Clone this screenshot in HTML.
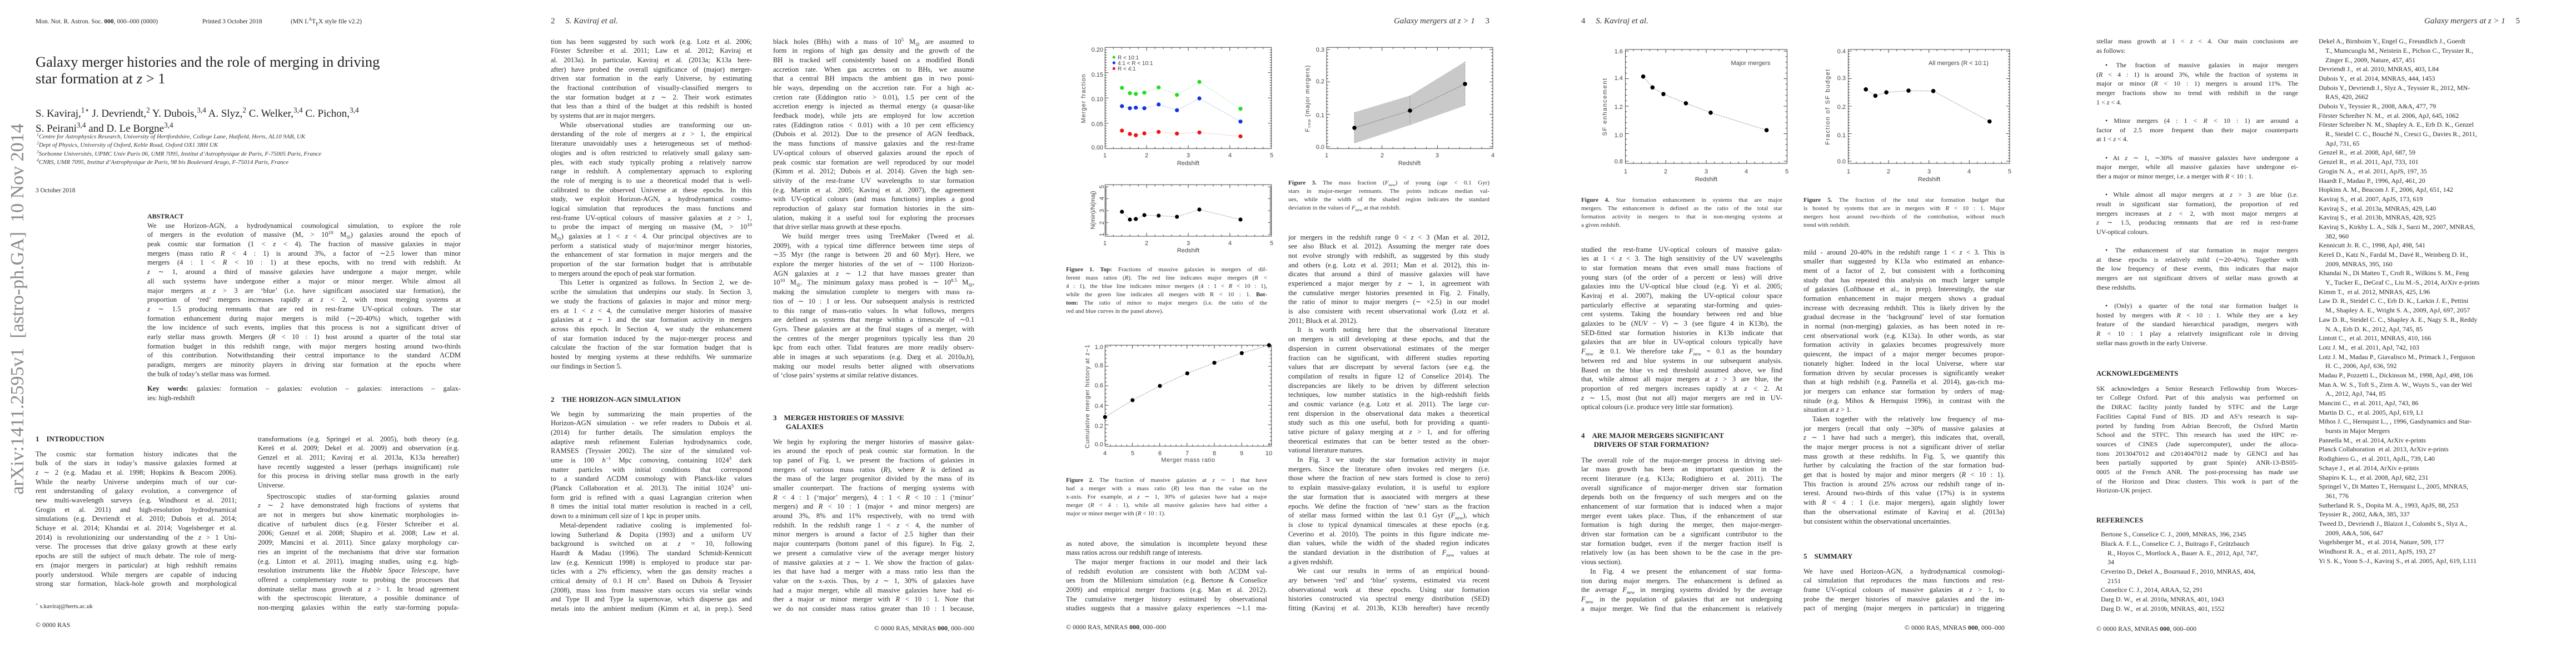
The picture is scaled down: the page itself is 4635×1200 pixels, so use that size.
<!DOCTYPE html>
<html><head><meta charset="utf-8">
<style>
html,body{margin:0;padding:0;background:#fff;}
body{width:4635px;height:1200px;position:relative;overflow:hidden;}
.c{position:absolute;font:12.6px/16.7px "Liberation Serif",serif;color:#262626;}
.c>div{height:16.7px;white-space:nowrap;overflow:hidden;text-align:justify;text-align-last:justify;}
.c>div.e{text-align-last:left;}
.c>div.i{padding-left:16px;}
.c>p{margin:0;}
.cap{position:absolute;font:11px/15px "Liberation Serif",serif;color:#333;}
.cap>div{height:15px;white-space:nowrap;overflow:hidden;text-align:justify;text-align-last:justify;}
.cap>div.e{text-align-last:left;}
.h{position:absolute;font:bold 13px/16.7px "Liberation Serif",serif;color:#222;white-space:nowrap;}
.t{position:absolute;font:12.6px/16.7px "Liberation Serif",serif;color:#262626;white-space:nowrap;}
.hd{position:absolute;font:italic 15px/18px "Liberation Serif",serif;color:#333;white-space:nowrap;}
sub,sup{font-size:70%;line-height:0;}
.refs>div{text-align-last:left;}
.refs>div.k{padding-left:12px;}
svg text{font-family:"Liberation Sans",sans-serif;fill:#444;}
</style></head><body>

<svg id="plots" width="4635" height="1200" style="position:absolute;left:0;top:0">
<g id="ticks" stroke="#444" stroke-width="1" fill="none"></g>
<g font-size="11">
<!-- Fig1 top -->
<text x="1985" y="93" text-anchor="end">0.20</text>
<text x="1985" y="138" text-anchor="end">0.15</text>
<text x="1985" y="182" text-anchor="end">0.10</text>
<text x="1985" y="227" text-anchor="end">0.05</text>
<text x="1985" y="269" text-anchor="end">0.00</text>
<text x="1988" y="283" text-anchor="middle">1</text>
<text x="2063" y="283" text-anchor="middle">2</text>
<text x="2138" y="283" text-anchor="middle">3</text>
<text x="2213" y="283" text-anchor="middle">4</text>
<text x="2288" y="283" text-anchor="middle">5</text>
<text x="2138" y="297" text-anchor="middle">Redshift</text>
<text transform="translate(1953,177) rotate(-90)" text-anchor="middle" letter-spacing="1">Merger fraction</text>
<text x="2011" y="107" font-size="10">R &lt; 10:1</text>
<text x="2011" y="117" font-size="10">4:1 &lt; R &lt; 10:1</text>
<text x="2011" y="127" font-size="10">R &lt; 4:1</text>
<!-- Fig1 bottom -->
<text transform="translate(1986,336) rotate(-90)" text-anchor="middle">5</text>
<text transform="translate(1986,357) rotate(-90)" text-anchor="middle">4</text>
<text transform="translate(1986,379) rotate(-90)" text-anchor="middle">3</text>
<text transform="translate(1986,401) rotate(-90)" text-anchor="middle">2</text>
<text transform="translate(1986,422) rotate(-90)" text-anchor="middle">1</text>
<text transform="translate(1970,378) rotate(-90)" text-anchor="middle">N(min)/N(maj)</text>
<text x="1988" y="441" text-anchor="middle">1</text>
<text x="2063" y="441" text-anchor="middle">2</text>
<text x="2138" y="441" text-anchor="middle">3</text>
<text x="2213" y="441" text-anchor="middle">4</text>
<text x="2288" y="441" text-anchor="middle">5</text>
<text x="2138" y="454" text-anchor="middle">Redshift</text>
<!-- Fig2 -->
<text x="1985" y="628" text-anchor="end">1.0</text>
<text x="1985" y="661" text-anchor="end">0.8</text>
<text x="1985" y="697" text-anchor="end">0.6</text>
<text x="1985" y="734" text-anchor="end">0.4</text>
<text x="1985" y="770" text-anchor="end">0.2</text>
<text x="1985" y="803" text-anchor="end">0.0</text>
<text x="1988" y="819" text-anchor="middle">4</text>
<text x="2038" y="819" text-anchor="middle">5</text>
<text x="2087" y="819" text-anchor="middle">6</text>
<text x="2136" y="819" text-anchor="middle">7</text>
<text x="2185" y="819" text-anchor="middle">8</text>
<text x="2234" y="819" text-anchor="middle">9</text>
<text x="2283" y="819" text-anchor="middle">10</text>
<text x="2138" y="831" text-anchor="middle" letter-spacing="0.5">Merger mass ratio</text>
<text transform="translate(1960,713) rotate(-90)" text-anchor="middle" letter-spacing="0.8">Cumulative merger history at z~1</text>
<!-- Fig3 -->
<text x="2383" y="93" text-anchor="end">0.3</text>
<text x="2383" y="150" text-anchor="end">0.2</text>
<text x="2383" y="211" text-anchor="end">0.1</text>
<text x="2383" y="268" text-anchor="end">0.0</text>
<text x="2387" y="283" text-anchor="middle">1</text>
<text x="2487" y="283" text-anchor="middle">2</text>
<text x="2586" y="283" text-anchor="middle">3</text>
<text x="2686" y="283" text-anchor="middle">4</text>
<text x="2536" y="297" text-anchor="middle">Redshift</text>
<text transform="translate(2356,177) rotate(-90)" text-anchor="middle" letter-spacing="1">F<tspan font-size="7" dy="2">new</tspan><tspan dy="-2"> (major mergers)</tspan></text>
<!-- Fig4 -->
<text x="2920" y="96" text-anchor="end">1.6</text>
<text x="2920" y="144" text-anchor="end">1.4</text>
<text x="2920" y="196" text-anchor="end">1.2</text>
<text x="2920" y="247" text-anchor="end">1.0</text>
<text x="2920" y="294" text-anchor="end">0.8</text>
<text x="2925" y="312" text-anchor="middle">1</text>
<text x="2997" y="312" text-anchor="middle">2</text>
<text x="3070" y="312" text-anchor="middle">3</text>
<text x="3142" y="312" text-anchor="middle">4</text>
<text x="3215" y="312" text-anchor="middle">5</text>
<text x="3070" y="326" text-anchor="middle">Redshift</text>
<text x="3150" y="117" text-anchor="middle">Major mergers</text>
<text transform="translate(2891,192) rotate(-90)" text-anchor="middle" letter-spacing="1.5">SF enhancement</text>
<!-- Fig5 -->
<text x="3321" y="96" text-anchor="end">0.4</text>
<text x="3321" y="144" text-anchor="end">0.3</text>
<text x="3321" y="196" text-anchor="end">0.2</text>
<text x="3321" y="247" text-anchor="end">0.1</text>
<text x="3321" y="294" text-anchor="end">0.0</text>
<text x="3326" y="312" text-anchor="middle">1</text>
<text x="3398" y="312" text-anchor="middle">2</text>
<text x="3471" y="312" text-anchor="middle">3</text>
<text x="3543" y="312" text-anchor="middle">4</text>
<text x="3616" y="312" text-anchor="middle">5</text>
<text x="3471" y="326" text-anchor="middle">Redshift</text>
<text x="3524" y="117" text-anchor="middle">All mergers (R &lt; 10:1)</text>
<text transform="translate(3292,192) rotate(-90)" text-anchor="middle" letter-spacing="1.5">Fraction of SF budget</text>
</g>
<!-- data -->
<polygon points="2437,202 2537,172 2636,111 2636,190 2537,225 2437,258" fill="#c9c9c9"/>
<g stroke="#888" stroke-width="1" stroke-dasharray="2,2">
<line x1="2437" y1="202" x2="2437" y2="258"/><line x1="2537" y1="172" x2="2537" y2="225"/><line x1="2636" y1="111" x2="2636" y2="190"/>
</g>
<g fill="none" stroke-width="1" stroke-dasharray="1.2,2">
<polyline stroke="#7fdc7f" points="2018.7,158 2033,167.7 2043.7,169 2059,166.7 2084.7,157.3 2117.7,170.7 2158,147.3 2232,195.7"/>
<polyline stroke="#7f8fe0" points="2018.7,191 2033,194.7 2043.7,193.7 2059,194.7 2084.7,188 2117.7,198.3 2158,177 2232,218.7"/>
<polyline stroke="#ee8f8f" points="2018.7,235 2033,241 2043.7,243.3 2059,240 2084.7,237.3 2117.7,240.3 2158,238.3 2232,245.3"/>
<polyline stroke="#666" points="2018.7,381 2033,395 2043.7,394 2059,387 2084.7,388 2117.7,390 2158,377 2232,395"/>
<polyline stroke="#555" points="1988.3,750.3 2037.7,720 2087,694.3 2136.3,671.7 2185,652.7 2234.3,635.3 2283.3,621"/>
<polyline stroke="#444" points="2437,230 2537,199 2636,151"/>
<polyline stroke="#555" points="2956.6,137.7 2973.3,157.3 2993,169.2 3033.4,185.8 3078,202.7 3178.6,234.2"/>
<polyline stroke="#555" points="3357.2,160.8 3374.4,172.3 3394.1,166.2 3434,163.1 3478.6,163.8 3579.8,218.5"/>
</g>
<g fill="#22dd22"><circle cx="2018.7" cy="158" r="3.6"/><circle cx="2033" cy="167.7" r="3.6"/><circle cx="2043.7" cy="169" r="3.6"/><circle cx="2059" cy="166.7" r="3.6"/><circle cx="2084.7" cy="157.3" r="3.6"/><circle cx="2117.7" cy="170.7" r="3.6"/><circle cx="2158" cy="147.3" r="3.6"/><circle cx="2232" cy="195.7" r="3.6"/><circle cx="2004.3" cy="103" r="2.6"/></g>
<g fill="#1133dd"><circle cx="2018.7" cy="191" r="3.6"/><circle cx="2033" cy="194.7" r="3.6"/><circle cx="2043.7" cy="193.7" r="3.6"/><circle cx="2059" cy="194.7" r="3.6"/><circle cx="2084.7" cy="188" r="3.6"/><circle cx="2117.7" cy="198.3" r="3.6"/><circle cx="2158" cy="177" r="3.6"/><circle cx="2232" cy="218.7" r="3.6"/><circle cx="2004.3" cy="113" r="2.6"/></g>
<g fill="#ee1111"><circle cx="2018.7" cy="235" r="3.6"/><circle cx="2033" cy="241" r="3.6"/><circle cx="2043.7" cy="243.3" r="3.6"/><circle cx="2059" cy="240" r="3.6"/><circle cx="2084.7" cy="237.3" r="3.6"/><circle cx="2117.7" cy="240.3" r="3.6"/><circle cx="2158" cy="238.3" r="3.6"/><circle cx="2232" cy="245.3" r="3.6"/><circle cx="2004.3" cy="123.3" r="2.6"/></g>
<g fill="#000">
<circle cx="2018.7" cy="381" r="3.6"/><circle cx="2033" cy="395" r="3.6"/><circle cx="2043.7" cy="394" r="3.6"/><circle cx="2059" cy="387" r="3.6"/><circle cx="2084.7" cy="388" r="3.6"/><circle cx="2117.7" cy="390" r="3.6"/><circle cx="2158" cy="377" r="3.6"/><circle cx="2232" cy="395" r="3.6"/>
<circle cx="1988.3" cy="750.3" r="3.6"/><circle cx="2037.7" cy="720" r="3.6"/><circle cx="2087" cy="694.3" r="3.6"/><circle cx="2136.3" cy="671.7" r="3.6"/><circle cx="2185" cy="652.7" r="3.6"/><circle cx="2234.3" cy="635.3" r="3.6"/><circle cx="2283.3" cy="621" r="3.6"/>
<circle cx="2437" cy="230" r="3.8"/><circle cx="2537" cy="199" r="3.8"/><circle cx="2636" cy="151" r="3.8"/>
<circle cx="2956.6" cy="137.7" r="3.8"/><circle cx="2973.3" cy="157.3" r="3.8"/><circle cx="2993" cy="169.2" r="3.8"/><circle cx="3033.4" cy="185.8" r="3.8"/><circle cx="3078" cy="202.7" r="3.8"/><circle cx="3178.6" cy="234.2" r="3.8"/>
<circle cx="3357.2" cy="160.8" r="3.8"/><circle cx="3374.4" cy="172.3" r="3.8"/><circle cx="3394.1" cy="166.2" r="3.8"/><circle cx="3434" cy="163.1" r="3.8"/><circle cx="3478.6" cy="163.8" r="3.8"/><circle cx="3579.8" cy="218.5" r="3.8"/>
</g>
</svg>

<script>
(function(){
var g=document.getElementById('ticks'),d='';
function ax(x0,y0,x1,y1,xs,ys){
 d+='M'+x0+' '+y0+'H'+x1+'V'+y1+'H'+x0+'Z';
 xs.forEach(function(t){var x=t[0],L=t[1];d+='M'+x+' '+y1+'v-'+L+'M'+x+' '+y0+'v'+L;});
 ys.forEach(function(t){var y=t[0],L=t[1];d+='M'+x0+' '+y+'h'+L+'M'+x1+' '+y+'h-'+L;});
}
function tk(a,b,nMaj,nMin){var r=[];var N=nMaj*nMin;for(var i=0;i<=N;i++){r.push([a+(b-a)*i/N,(i%nMin==0)?6:3]);}return r;}
ax(1988.3,85.3,2287.7,267.3,tk(1988.3,2287.7,4,5),tk(267.3,85.3,4,10));
ax(1988.3,332.3,2287.7,425,tk(1988.3,2287.7,4,5),tk(422,336,4,10));
ax(1988.3,621,2287.7,802.7,tk(1988.3,2283.3,6,5),tk(799.3,624,5,5));
ax(2387,85.3,2686,267.3,tk(2387,2686,3,5),tk(264,89,3,10));
ax(2924.5,89,3215.5,294,tk(2924.5,3215.5,4,5),tk(290,92,4,5));
ax(3325.5,89,3616,294,tk(3325.5,3616,4,5),tk(290,92,4,10));
var p=document.createElementNS('http://www.w3.org/2000/svg','path');p.setAttribute('d',d);g.appendChild(p);
})();
</script>

<!-- ================= PAGE 1 ================= -->
<div class="t" style="left:64px;top:31px;font-size:11.5px;">Mon. Not. R. Astron. Soc. <b>000</b>, 000–000 (0000)</div>
<div class="t" style="left:364px;top:31px;font-size:11.5px;">Printed 3 October 2018</div>
<div class="t" style="left:523px;top:31px;font-size:11.5px;">(MN L<sup>A</sup>T<sub>E</sub>X style file v2.2)</div>
<div class="t" style="left:64px;top:96px;font-size:26.5px;line-height:30px;color:#222;">Galaxy merger histories and the role of merging in driving<br>star formation at <i>z</i> &gt; 1</div>
<div class="t" style="left:64px;top:191px;font-size:19px;line-height:27px;color:#222;">S. Kaviraj,<sup>1⋆</sup> J. Devriendt,<sup>2</sup> Y. Dubois,<sup>3,4</sup> A. Slyz,<sup>2</sup> C. Welker,<sup>3,4</sup> C. Pichon,<sup>3,4</sup><br>S. Peirani<sup>3,4</sup> and D. Le Borgne<sup>3,4</sup></div>
<div class="t" style="left:66px;top:239px;font-size:11px;line-height:15.3px;font-style:italic;color:#333;"><sup>1</sup>Centre for Astrophysics Research, University of Hertfordshire, College Lane, Hatfield, Herts, AL10 9AB, UK<br><sup>2</sup>Dept of Physics, University of Oxford, Keble Road, Oxford OX1 3RH UK<br><sup>3</sup>Sorbonne Universités, UPMC Univ Paris 06, UMR 7095, Institut d’Astrophysique de Paris, F-75005 Paris, France<br><sup>4</sup>CNRS, UMR 7095, Institut d’Astrophysique de Paris, 98 bis Boulevard Arago, F-75014 Paris, France</div>
<div class="t" style="left:64px;top:335px;font-size:11.5px;">3 October 2018</div>
<div style="position:absolute;left:32px;top:556px;transform:translate(-50%,-50%) rotate(-90deg);font:34px 'Liberation Serif',serif;color:#8a8a8a;white-space:nowrap;">arXiv:1411.2595v1&nbsp; [astro-ph.GA]&nbsp; 10 Nov 2014</div>

<div class="h" style="left:265px;top:381px;font-size:12px;">ABSTRACT</div>
<div class="c" style="left:265px;top:397.7px;width:564px;">
<div>We use Horizon-AGN, a hydrodynamical cosmological simulation, to explore the role</div>
<div>of mergers in the evolution of massive (M<sub>*</sub> &gt; 10<sup>10</sup> M<sub>⊙</sub>) galaxies around the epoch of</div>
<div>peak cosmic star formation (1 &lt; <i>z</i> &lt; 4). The fraction of massive galaxies in major</div>
<div>mergers (mass ratio <i>R</i> &lt; 4 : 1) is around 3%, a factor of ∼2.5 lower than minor</div>
<div>mergers (4 : 1 &lt; <i>R</i> &lt; 10 : 1) at these epochs, with no trend with redshift. At</div>
<div><i>z</i> ∼ 1, around a third of massive galaxies have undergone a major merger, while</div>
<div>all such systems have undergone either a major or minor merger. While almost all</div>
<div>major mergers at <i>z</i> &gt; 3 are ‘blue’ (i.e. have significant associated star formation), the</div>
<div>proportion of ‘red’ mergers increases rapidly at <i>z</i> &lt; 2, with most merging systems at</div>
<div><i>z</i> ∼ 1.5 producing remnants that are red in rest-frame UV-optical colours. The star</div>
<div>formation enhancement during major mergers is mild (∼20-40%) which, together with</div>
<div>the low incidence of such events, implies that this process is not a significant driver of</div>
<div>early stellar mass growth. Mergers (<i>R</i> &lt; 10 : 1) host around a quarter of the total star</div>
<div>formation budget in this redshift range, with major mergers hosting around two-thirds</div>
<div>of this contribution. Notwithstanding their central importance to the standard ΛCDM</div>
<div>paradigm, mergers are minority players in driving star formation at the epochs where</div>
<div class="e">the bulk of today’s stellar mass was formed.</div>
<p style="height:10px"></p>
<div><b>Key words:</b> galaxies: formation – galaxies: evolution – galaxies: interactions – galax-</div>
<div class="e">ies: high-redshift</div>
</div>

<div class="h" style="left:64px;top:782px;">1&nbsp;&nbsp;&nbsp;&nbsp;INTRODUCTION</div>
<div class="c" style="left:64px;top:808.6px;width:362px;">
<div>The cosmic star formation history indicates that the</div>
<div>bulk of the stars in today’s massive galaxies formed at</div>
<div><i>z</i> ∼ 2 (e.g. Madau et al. 1998; Hopkins &amp; Beacom 2006).</div>
<div>While the nearby Universe underpins much of our cur-</div>
<div>rent understanding of galaxy evolution, a convergence of</div>
<div>new multi-wavelength surveys (e.g. Windhorst et al. 2011;</div>
<div>Grogin et al. 2011) and high-resolution hydrodynamical</div>
<div>simulations (e.g. Devriendt et al. 2010; Dubois et al. 2014;</div>
<div>Schaye et al. 2014; Khandai et al. 2014; Vogelsberger et al.</div>
<div>2014) is revolutionizing our understanding of the <i>z</i> &gt; 1 Uni-</div>
<div>verse. The processes that drive galaxy growth at these early</div>
<div>epochs are still the subject of much debate. The role of merg-</div>
<div>ers (major mergers in particular) at high redshift remains</div>
<div>poorly understood. While mergers are capable of inducing</div>
<div>strong star formation, black-hole growth and morphological</div>
</div>
<div class="t" style="left:64px;top:1083px;font-size:11px;"><sup>⋆</sup> s.kaviraj@herts.ac.uk</div>
<div class="t" style="left:64px;top:1116px;font-size:12px;">© 0000 RAS</div>
<div class="c" style="left:464px;top:781.6px;width:362px;">
<div>transformations (e.g. Springel et al. 2005), both theory (e.g.</div>
<div>Kereš et al. 2009; Dekel et al. 2009) and observation (e.g.</div>
<div>Genzel et al. 2011; Kaviraj et al. 2013a, K13a hereafter)</div>
<div>have recently suggested a lesser (perhaps insignificant) role</div>
<div>for this process in driving stellar mass growth in the early</div>
<div class="e">Universe.</div>
<p style="height:3px"></p>
<div class="i">Spectroscopic studies of star-forming galaxies around</div>
<div><i>z</i> ∼ 2 have demonstrated high fractions of systems that</div>
<div>are not in mergers but show kinematic morphologies in-</div>
<div>dicative of turbulent discs (e.g. Förster Schreiber et al.</div>
<div>2006; Genzel et al. 2008; Shapiro et al. 2008; Law et al.</div>
<div>2009; Mancini et al. 2011). Since galaxy morphology car-</div>
<div>ries an imprint of the mechanisms that drive star formation</div>
<div>(e.g. Lintott et al. 2011), imaging studies, using e.g. high-</div>
<div>resolution instruments like the <i>Hubble Space Telescope</i>, have</div>
<div>offered a complementary route to probing the processes that</div>
<div>dominate stellar mass growth at <i>z</i> &gt; 1. In broad agreement</div>
<div>with the spectroscopic literature, a possible dominance of</div>
<div>non-merging galaxies within the early star-forming popula-</div>
</div>

<!-- ================= PAGE 2 ================= -->
<div class="hd" style="left:991px;top:29px;"><span style="font-style:normal">2</span>&nbsp;&nbsp;&nbsp;&nbsp;&nbsp;S. Kaviraj et al.</div>
<div class="c" style="left:991px;top:66.6px;width:362px;">
<div>tion has been suggested by such work (e.g. Lotz et al. 2006;</div>
<div>Förster Schreiber et al. 2011; Law et al. 2012; Kaviraj et</div>
<div>al. 2013a). In particular, Kaviraj et al. (2013a; K13a here-</div>
<div>after) have probed the overall significance of (major) merger-</div>
<div>driven star formation in the early Universe, by estimating</div>
<div>the fractional contribution of visually-classified mergers to</div>
<div>the star formation budget at <i>z</i> ∼ 2. Their work estimates</div>
<div>that less than a third of the budget at this redshift is hosted</div>
<div class="e">by systems that are in major mergers.</div>
<div class="i">While observational studies are transforming our un-</div>
<div>derstanding of the role of mergers at <i>z</i> &gt; 1, the empirical</div>
<div>literature unavoidably uses a heterogeneous set of method-</div>
<div>ologies and is often restricted to relatively small galaxy sam-</div>
<div>ples, with each study typically probing a relatively narrow</div>
<div>range in redshift. A complementary approach to exploring</div>
<div>the role of merging is to use a theoretical model that is well-</div>
<div>calibrated to the observed Universe at these epochs. In this</div>
<div>study, we exploit Horizon-AGN, a hydrodynamical cosmo-</div>
<div>logical simulation that reproduces the mass functions and</div>
<div>rest-frame UV-optical colours of massive galaxies at <i>z</i> &gt; 1,</div>
<div>to probe the impact of merging on massive (M<sub>*</sub> &gt; 10<sup>10</sup></div>
<div>M<sub>⊙</sub>) galaxies at 1 &lt; <i>z</i> &lt; 4. Our principal objectives are to</div>
<div>perform a statistical study of major/minor merger histories,</div>
<div>the enhancement of star formation in major mergers and the</div>
<div>proportion of the star formation budget that is attributable</div>
<div class="e">to mergers around the epoch of peak star formation.</div>
<div class="i">This Letter is organized as follows. In Section 2, we de-</div>
<div>scribe the simulation that underpins our study. In Section 3,</div>
<div>we study the fractions of galaxies in major and minor merg-</div>
<div>ers at 1 &lt; <i>z</i> &lt; 4, the cumulative merger histories of massive</div>
<div>galaxies at <i>z</i> ∼ 1 and the star formation activity in mergers</div>
<div>across this epoch. In Section 4, we study the enhancement</div>
<div>of star formation induced by the major-merger process and</div>
<div>calculate the fraction of the star formation budget that is</div>
<div>hosted by merging systems at these redshifts. We summarize</div>
<div class="e">our findings in Section 5.</div>
</div>
<div class="h" style="left:991px;top:710.6px;">2&nbsp;&nbsp;&nbsp;&nbsp;THE HORIZON-AGN SIMULATION</div>
<div class="c" style="left:991px;top:736.6px;width:362px;">
<div>We begin by summarizing the main properties of the</div>
<div>Horizon-AGN simulation - we refer readers to Dubois et al.</div>
<div>(2014) for further details. The simulation employs the</div>
<div>adaptive mesh refinement Eulerian hydrodynamics code,</div>
<div>RAMSES (Teyssier 2002). The size of the simulated vol-</div>
<div>ume is 100 <i>h</i><sup>−1</sup> Mpc comoving, containing 1024<sup>3</sup> dark</div>
<div>matter particles with initial conditions that correspond</div>
<div>to a standard ΛCDM cosmology with Planck-like values</div>
<div>(Planck Collaboration et al. 2013). The initial 1024<sup>3</sup> uni-</div>
<div>form grid is refined with a quasi Lagrangian criterion when</div>
<div>8 times the initial total matter resolution is reached in a cell,</div>
<div class="e">down to a minimum cell size of 1 kpc in proper units.</div>
<div class="i">Metal-dependent radiative cooling is implemented fol-</div>
<div>lowing Sutherland &amp; Dopita (1993) and a uniform UV</div>
<div>background is switched on at <i>z</i> = 10, following</div>
<div>Haardt &amp; Madau (1996). The standard Schmidt-Kennicutt</div>
<div>law (e.g. Kennicutt 1998) is employed to produce star par-</div>
<div>ticles with a 2% efficiency, when the gas density reaches a</div>
<div>critical density of 0.1 H cm<sup>3</sup>. Based on Dubois &amp; Teyssier</div>
<div>(2008), mass loss from massive stars occurs via stellar winds</div>
<div>and Type II and Type Ia supernovae, which disperse gas and</div>
<div>metals into the ambient medium (Kimm et al, in prep.). Seed</div>
</div>
<div class="c" style="left:1391px;top:66.6px;width:362px;">
<div>black holes (BHs) with a mass of 10<sup>5</sup> M<sub>⊙</sub> are assumed to</div>
<div>form in regions of high gas density and the growth of the</div>
<div>BH is tracked self consistently based on a modified Bondi</div>
<div>accretion rate. When gas accretes on to BHs, we assume</div>
<div>that a central BH impacts the ambient gas in two possi-</div>
<div>ble ways, depending on the accretion rate. For a high ac-</div>
<div>cretion rate (Eddington ratio &gt; 0.01), 1.5 per cent of the</div>
<div>accretion energy is injected as thermal energy (a quasar-like</div>
<div>feedback mode), while jets are employed for low accretion</div>
<div>rates (Eddington ratios &lt; 0.01) with a 10 per cent efficiency</div>
<div>(Dubois et al. 2012). Due to the presence of AGN feedback,</div>
<div>the mass functions of massive galaxies and the rest-frame</div>
<div>UV-optical colours of observed galaxies around the epoch of</div>
<div>peak cosmic star formation are well reproduced by our model</div>
<div>(Kimm et al. 2012; Dubois et al. 2014). Given the high sen-</div>
<div>sitivity of the rest-frame UV wavelengths to star formation</div>
<div>(e.g. Martin et al. 2005; Kaviraj et al. 2007), the agreement</div>
<div>with UV-optical colours (and mass functions) implies a good</div>
<div>reproduction of galaxy star formation histories in the sim-</div>
<div>ulation, making it a useful tool for exploring the processes</div>
<div class="e">that drive stellar mass growth at these epochs.</div>
<div class="i">We build merger trees using TreeMaker (Tweed et al.</div>
<div>2009), with a typical time difference between time steps of</div>
<div>∼35 Myr (the range is between 20 and 60 Myr). Here, we</div>
<div>explore the merger histories of the set of ∼ 1100 Horizon-</div>
<div>AGN galaxies at <i>z</i> ∼ 1.2 that have masses greater than</div>
<div>10<sup>10</sup> M<sub>⊙</sub>. The minimum galaxy mass probed is ∼ 10<sup>8.5</sup> M<sub>⊙</sub>,</div>
<div>making the simulation complete to mergers with mass ra-</div>
<div>tios of ∼ 10 : 1 or less. Our subsequent analysis is restricted</div>
<div>to this range of mass-ratio values. In what follows, mergers</div>
<div>are defined as systems that merge within a timescale of ∼0.1</div>
<div>Gyrs. These galaxies are at the final stages of a merger, with</div>
<div>the centres of the merger progenitors typically less than 20</div>
<div>kpc from each other. Tidal features are more readily observ-</div>
<div>able in images at such separations (e.g. Darg et al. 2010a,b),</div>
<div>making our model results better aligned with observations</div>
<div class="e">of ‘close pairs’ systems at similar relative distances.</div>
</div>
<div class="h" style="left:1391px;top:743.6px;">3&nbsp;&nbsp;&nbsp;&nbsp;MERGER HISTORIES OF MASSIVE<br>&nbsp;&nbsp;&nbsp;&nbsp;&nbsp;&nbsp;&nbsp;GALAXIES</div>
<div class="c" style="left:1391px;top:786.6px;width:362px;">
<div>We begin by exploring the merger histories of massive galax-</div>
<div>ies around the epoch of peak cosmic star formation. In the</div>
<div>top panel of Fig. 1, we present the fractions of galaxies in</div>
<div>mergers of various mass ratios (<i>R</i>), where <i>R</i> is defined as</div>
<div>the mass of the larger progenitor divided by the mass of its</div>
<div>smaller counterpart. The fractions of merging systems with</div>
<div><i>R</i> &lt; 4 : 1 (‘major’ mergers), 4 : 1 &lt; <i>R</i> &lt; 10 : 1 (‘minor’</div>
<div>mergers) and <i>R</i> &lt; 10 : 1 (major + and minor mergers) are</div>
<div>around 3%, 8% and 11% respectively, with no trend with</div>
<div>redshift. In the redshift range 1 &lt; <i>z</i> &lt; 4, the number of</div>
<div>minor mergers is around a factor of 2.5 higher than their</div>
<div>major counterparts (bottom panel of this figure). In Fig. 2,</div>
<div>we present a cumulative view of the average merger history</div>
<div>of massive galaxies at <i>z</i> ∼ 1. We show the fraction of galax-</div>
<div>ies that have had a merger with a mass ratio less than the</div>
<div>value on the x-axis. Thus, by <i>z</i> ∼ 1, 30% of galaxies have</div>
<div>had a major merger, while all massive galaxies have had ei-</div>
<div>ther a major or minor merger with <i>R</i> &lt; 10 : 1. Note that</div>
<div>we do not consider mass ratios greater than 10 : 1 because,</div>
</div>
<div class="t" style="left:1553px;width:200px;text-align:right;top:1122px;font-size:12px;">© 0000 RAS, MNRAS <b>000</b>, 000–000</div>

<!-- ================= PAGE 3 ================= -->
<div class="hd" style="left:2420px;width:260px;text-align:right;top:29px;">Galaxy mergers at z &gt; 1&nbsp;&nbsp;&nbsp;&nbsp;&nbsp;<span style="font-style:normal">3</span></div>
<div class="cap" style="left:1918px;top:477.5px;width:362px;">
<div><b>Figure 1. Top:</b> Fractions of massive galaxies in mergers of dif-</div>
<div>ferent mass ratios (<i>R</i>). The red line indicates major mergers (<i>R</i> &lt;</div>
<div>4 : 1), the blue line indicates minor mergers (4 : 1 &lt; <i>R</i> &lt; 10 : 1),</div>
<div>while the green line indicates all mergers with R &lt; 10 : 1. <b>Bot-</b></div>
<div><b>tom:</b> The ratio of minor to major mergers (i.e. the ratio of the</div>
<div class="e">red and blue curves in the panel above).</div>
</div>
<div class="cap" style="left:1918px;top:856.5px;width:362px;">
<div><b>Figure 2.</b> The fraction of massive galaxies at <i>z</i> ∼ 1 that have</div>
<div>had a merger with a mass ratio (<i>R</i>) less than the value on the</div>
<div>x-axis. For example, at <i>z</i> ∼ 1, 30% of galaxies have had a major</div>
<div>merger (<i>R</i> &lt; 4 : 1), while all massive galaxies have had either a</div>
<div class="e">major or minor merger with (<i>R</i> &lt; 10 : 1).</div>
</div>
<div class="cap" style="left:2318px;top:321.5px;width:362px;">
<div><b>Figure 3.</b> The mass fraction (<i>F<sub>new</sub></i>) of young (age &lt; 0.1 Gyr)</div>
<div>stars in major-merger remnants. The points indicate median val-</div>
<div>ues, while the width of the shaded region indicates the standard</div>
<div class="e">deviation in the values of <i>F<sub>new</sub></i> at that redshift.</div>
</div>
<div class="c" style="left:1918px;top:969.6px;width:362px;">
<div>as noted above, the simulation is incomplete beyond these</div>
<div class="e">mass ratios across our redshift range of interests.</div>
<div class="i">The major merger fractions in our model and their lack</div>
<div>of redshift evolution are consistent with both ΛCDM val-</div>
<div>ues from the Millenium simulation (e.g. Bertone &amp; Conselice</div>
<div>2009) and empirical merger fractions (e.g. Man et al. 2012).</div>
<div>The cumulative merger history estimated by observational</div>
<div>studies suggests that a massive galaxy experiences ∼1.1 ma-</div>
</div>
<div class="c" style="left:2318px;top:418.6px;width:362px;">
<div>jor mergers in the redshift range 0 &lt; <i>z</i> &lt; 3 (Man et al. 2012,</div>
<div>see also Bluck et al. 2012). Assuming the merger rate does</div>
<div>not evolve strongly with redshift, as suggested by this study</div>
<div>and others (e.g. Lotz et al. 2011; Man et al. 2012), this in-</div>
<div>dicates that around a third of massive galaxies will have</div>
<div>experienced a major merger by <i>z</i> ∼ 1, in agreement with</div>
<div>the cumulative merger histories presented in Fig. 2. Finally,</div>
<div>the ratio of minor to major mergers (∼ ×2.5) in our model</div>
<div>is also consistent with recent observational work (Lotz et al.</div>
<div class="e">2011; Bluck et al. 2012).</div>
<div class="i">It is worth noting here that the observational literature</div>
<div>on mergers is still developing at these epochs, and that the</div>
<div>dispersion in current observational estimates of the merger</div>
<div>fraction can be significant, with different studies reporting</div>
<div>values that are discrepant by several factors (see e.g. the</div>
<div>compilation of results in figure 12 of Conselice 2014). The</div>
<div>discrepancies are likely to be driven by different selection</div>
<div>techniques, low number statistics in the high-redshift fields</div>
<div>and cosmic variance (e.g. Lotz et al. 2011). The large cur-</div>
<div>rent dispersion in the observational data makes a theoretical</div>
<div>study such as this one useful, both for providing a quanti-</div>
<div>tative picture of galaxy merging at <i>z</i> &gt; 1, and for offering</div>
<div>theoretical estimates that can be better tested as the obser-</div>
<div class="e">vational literature matures.</div>
<div class="i">In Fig. 3 we study the star formation activity in major</div>
<div>mergers. Since the literature often invokes red mergers (i.e.</div>
<div>those where the fraction of new stars formed is close to zero)</div>
<div>to explain massive-galaxy evolution, it is useful to explore</div>
<div>the star formation that is associated with mergers at these</div>
<div>epochs. We define the fraction of ‘new’ stars as the fraction</div>
<div>of stellar mass formed within the last 0.1 Gyr (<i>F<sub>new</sub></i>), which</div>
<div>is close to typical dynamical timescales at these epochs (e.g.</div>
<div>Ceverino et al. 2010). The points in this figure indicate me-</div>
<div>dian values, while the width of the shaded region indicates</div>
<div>the standard deviation in the distribution of <i>F<sub>new</sub></i> values at</div>
<div class="e">a given redshift.</div>
<div class="i">We cast our results in terms of an empirical bound-</div>
<div>ary between ‘red’ and ‘blue’ systems, estimated via recent</div>
<div>observational work at these epochs. Using star formation</div>
<div>histories constructed via spectral energy distribution (SED)</div>
<div>fitting (Kaviraj et al. 2013b, K13b hereafter) have recently</div>
</div>
<div class="t" style="left:1918px;top:1120px;font-size:12px;">© 0000 RAS, MNRAS <b>000</b>, 000–000</div>

<!-- ================= PAGE 4 ================= -->
<div class="hd" style="left:2845px;top:29px;"><span style="font-style:normal">4</span>&nbsp;&nbsp;&nbsp;&nbsp;&nbsp;S. Kaviraj et al.</div>
<div class="cap" style="left:2845px;top:352.5px;width:362px;">
<div><b>Figure 4.</b> Star formation enhancement in systems that are major</div>
<div>mergers. The enhancement is defined as the ratio of the total star</div>
<div>formation activity in mergers to that in non-merging systems at</div>
<div class="e">a given redshift.</div>
</div>
<div class="cap" style="left:3245px;top:352.5px;width:362px;">
<div><b>Figure 5.</b> The fraction of the total star formation budget that</div>
<div>is hosted by systems that are in mergers with <i>R</i> &lt; 10 : 1. Major</div>
<div>mergers host around two-thirds of the contribution, without much</div>
<div class="e">trend with redshift.</div>
</div>
<div class="c" style="left:2845px;top:440.6px;width:362px;">
<div>studied the rest-frame UV-optical colours of massive galax-</div>
<div>ies at 1 &lt; <i>z</i> &lt; 3. The high sensitivity of the UV wavelengths</div>
<div>to star formation means that even small mass fractions of</div>
<div>young stars (of the order of a percent or less) will drive</div>
<div>galaxies into the UV-optical blue cloud (e.g. Yi et al. 2005;</div>
<div>Kaviraj et al. 2007), making the UV-optical colour space</div>
<div>particularly effective at separating star-forming and quies-</div>
<div>cent systems. Taking the boundary between red and blue</div>
<div>galaxies to be (<i>NUV</i> − <i>V</i>) ∼ 3 (see figure 4 in K13b), the</div>
<div>SED-fitted star formation histories in K13b indicate that</div>
<div>galaxies that are blue in UV-optical colours typically have</div>
<div><i>F<sub>new</sub></i> ≳ 0.1. We therefore take <i>F<sub>new</sub></i> = 0.1 as the boundary</div>
<div>between red and blue systems in our subsequent analysis.</div>
<div>Based on the blue vs red threshold assumed above, we find</div>
<div>that, while almost all major mergers at <i>z</i> &gt; 3 are blue, the</div>
<div>proportion of red mergers increases rapidly at <i>z</i> &lt; 2. At</div>
<div><i>z</i> ∼ 1.5, most (but not all) major mergers are red in UV-</div>
<div class="e">optical colours (i.e. produce very little star formation).</div>
</div>
<div class="h" style="left:2845px;top:775.6px;">4&nbsp;&nbsp;&nbsp;&nbsp;ARE MAJOR MERGERS SIGNIFICANT<br>&nbsp;&nbsp;&nbsp;&nbsp;&nbsp;&nbsp;&nbsp;DRIVERS OF STAR FORMATION?</div>
<div class="c" style="left:2845px;top:819.6px;width:362px;">
<div>The overall role of the major-merger process in driving stel-</div>
<div>lar mass growth has been an important question in the</div>
<div>recent literature (e.g. K13a; Rodighiero et al. 2011). The</div>
<div>overall significance of major-merger driven star formation</div>
<div>depends both on the frequency of such mergers and on the</div>
<div>enhancement of star formation that is induced when a major</div>
<div>merger event takes place. Thus, if the enhancement of star</div>
<div>formation is high during the merger, then major-merger-</div>
<div>driven star formation can be a significant contributor to the</div>
<div>star formation budget, even if the merger fraction itself is</div>
<div>relatively low (as has been shown to be the case in the pre-</div>
<div class="e">vious section).</div>
<div class="i">In Fig. 4 we present the enhancement of star forma-</div>
<div>tion during major mergers. The enhancement is defined as</div>
<div>the average <i>F<sub>new</sub></i> in merging systems divided by the average</div>
<div><i>F<sub>new</sub></i> in the population of galaxies that are not undergoing</div>
<div>a major merger. We find that the enhancement is relatively</div>
</div>
<div class="c" style="left:3245px;top:445.6px;width:362px;">
<div>mild - around 20-40% in the redshift range 1 &lt; <i>z</i> &lt; 3. This is</div>
<div>smaller than suggested by K13a who estimated an enhance-</div>
<div>ment of a factor of 2, but consistent with a forthcoming</div>
<div>study that has repeated this analysis on much larger sample</div>
<div>of galaxies (Lofthouse et al., in prep). Interestingly, the star</div>
<div>formation enhancement in major mergers shows a gradual</div>
<div>increase with decreasing redshift. This is likely driven by the</div>
<div>gradual decrease in the ‘background’ level of star formation</div>
<div>in normal (non-merging) galaxies, as has been noted in re-</div>
<div>cent observational work (e.g. K13a). In other words, as star</div>
<div>formation activity in galaxies becomes progressively more</div>
<div>quiescent, the impact of a major merger becomes propor-</div>
<div>tionately higher. Indeed in the local Universe, where star</div>
<div>formation driven by secular processes is significantly weaker</div>
<div>than at high redshift (e.g. Pannella et al. 2014), gas-rich ma-</div>
<div>jor mergers can enhance star formation by orders of mag-</div>
<div>nitude (e.g. Mihos &amp; Hernquist 1996), in contrast with the</div>
<div class="e">situation at <i>z</i> &gt; 1.</div>
<div class="i">Taken together with the relatively low frequency of ma-</div>
<div>jor mergers (recall that only ∼30% of massive galaxies at</div>
<div><i>z</i> ∼ 1 have had such a merger), this indicates that, overall,</div>
<div>the major merger process is not a significant driver of stellar</div>
<div>mass growth at these redshifts. In Fig. 5, we quantify this</div>
<div>further by calculating the fraction of the star formation bud-</div>
<div>get that is hosted by major and minor mergers (<i>R</i> &lt; 10 : 1).</div>
<div>This fraction is around 25% across our redshift range of in-</div>
<div>terest. Around two-thirds of this value (17%) is in systems</div>
<div>with <i>R</i> &lt; 4 : 1 (i.e. major mergers), again slightly lower</div>
<div>than the observational estimate of Kaviraj et al. (2013a)</div>
<div class="e">but consistent within the observational uncertainties.</div>
</div>
<div class="h" style="left:3245px;top:992.6px;">5&nbsp;&nbsp;&nbsp;&nbsp;SUMMARY</div>
<div class="c" style="left:3245px;top:1019.6px;width:362px;">
<div>We have used Horizon-AGN, a hydrodynamical cosmologi-</div>
<div>cal simulation that reproduces the mass functions and rest-</div>
<div>frame UV-optical colours of massive galaxies at <i>z</i> &gt; 1, to</div>
<div>probe the merger histories of massive galaxies and the im-</div>
<div>pact of merging (major mergers in particular) in triggering</div>
</div>
<div class="t" style="left:3407px;width:200px;text-align:right;top:1121px;font-size:12px;">© 0000 RAS, MNRAS <b>000</b>, 000–000</div>

<!-- ================= PAGE 5 ================= -->
<div class="hd" style="left:4274px;width:260px;text-align:right;top:29px;">Galaxy mergers at z &gt; 1&nbsp;&nbsp;&nbsp;&nbsp;&nbsp;<span style="font-style:normal">5</span></div>
<div class="c" style="left:3772px;top:66.2px;width:363px;font-size:12px;">
<div>stellar mass growth at 1 &lt; <i>z</i> &lt; 4. Our main conclusions are</div>
<div class="e">as follows:</div>
<p style="height:9.5px"></p>
<div class="i">• The fraction of massive galaxies in major mergers</div>
<div>(<i>R</i> &lt; 4 : 1) is around 3%, while the fraction of systems in</div>
<div>major or minor (<i>R</i> &lt; 10 : 1) mergers is around 11%. The</div>
<div>merger fractions show no trend with redshift in the range</div>
<div class="e">1 &lt; <i>z</i> &lt; 4.</div>
<p style="height:16.5px"></p>
<div class="i">• Minor mergers (4 : 1 &lt; <i>R</i> &lt; 10 : 1) are around a</div>
<div>factor of 2.5 more frequent than their major counterparts</div>
<div class="e">at 1 &lt; <i>z</i> &lt; 4.</div>
<p style="height:16.5px"></p>
<div class="i">• At <i>z</i> ∼ 1, ∼30% of massive galaxies have undergone a</div>
<div>major merger, while all massive galaxies have undergone ei-</div>
<div class="e">ther a major or minor merger, i.e. a merger with <i>R</i> &lt; 10 : 1.</div>
<p style="height:16.5px"></p>
<div class="i">• While almost all major mergers at <i>z</i> &gt; 3 are blue (i.e.</div>
<div>result in significant star formation), the proportion of red</div>
<div>mergers increases at <i>z</i> &lt; 2, with most major mergers at</div>
<div><i>z</i> ∼ 1.5, producing remnants that are red in rest-frame</div>
<div class="e">UV-optical colours.</div>
<p style="height:16.5px"></p>
<div class="i">• The enhancement of star formation in major mergers</div>
<div>at these epochs is relatively mild (∼20-40%). Together with</div>
<div>the low frequency of these events, this indicates that major</div>
<div>mergers are not significant drivers of stellar mass growth at</div>
<div class="e">these redshifts.</div>
<p style="height:16.5px"></p>
<div class="i">• (Only) a quarter of the total star formation budget is</div>
<div>hosted by mergers with <i>R</i> &lt; 10 : 1. While they are a key</div>
<div>feature of the standard hierarchical paradigm, mergers with</div>
<div><i>R</i> &lt; 10 : 1 play a relatively insignificant role in driving</div>
<div class="e">stellar mass growth in the early Universe.</div>
</div>
<div class="h" style="left:3772px;top:664px;font-size:12.5px;">ACKNOWLEDGEMENTS</div>
<div class="c" style="left:3772px;top:690.8px;width:363px;font-size:12px;">
<div>SK acknowledges a Senior Research Fellowship from Worces-</div>
<div>ter College Oxford. Part of this analysis was performed on</div>
<div>the DiRAC facility jointly funded by STFC and the Large</div>
<div>Facilities Capital Fund of BIS. JD and AS’s research is sup-</div>
<div>ported by funding from Adrian Beecroft, the Oxford Martin</div>
<div>School and the STFC. This research has used the HPC re-</div>
<div>sources of CINES (Jade supercomputer), under the alloca-</div>
<div>tions 2013047012 and c2014047012 made by GENCI and has</div>
<div>been partially supported by grant Spin(e) ANR-13-BS05-</div>
<div>0005 of the French ANR. The post-processing has made use</div>
<div>of the Horizon and Dirac clusters. This work is part of the</div>
<div class="e">Horizon-UK project.</div>
</div>
<div class="h" style="left:3772px;top:927.6px;font-size:12.5px;">REFERENCES</div>
<div class="c refs" style="left:3780px;top:953.2px;width:355px;font-size:12px;">
<div>Bertone S., Conselice C. J., 2009, MNRAS, 396, 2345</div>
<div>Bluck A. F. L., Conselice C. J., Buitrago F., Grützbauch</div>
<div class="k">R., Hoyos C., Mortlock A., Bauer A. E., 2012, ApJ, 747,</div>
<div class="k">34</div>
<div>Ceverino D., Dekel A., Bournaud F., 2010, MNRAS, 404,</div>
<div class="k">2151</div>
<div>Conselice C. J., 2014, ARAA, 52, 291</div>
<div>Darg D. W., &nbsp;et al. 2010a, MNRAS, 401, 1043</div>
<div>Darg D. W., &nbsp;et al. 2010b, MNRAS, 401, 1552</div>
</div>
<div class="t" style="left:3772px;top:1123px;font-size:12px;">© 0000 RAS, MNRAS <b>000</b>, 000–000</div>
<div class="c refs" style="left:4172px;top:66.2px;width:362px;font-size:12px;">
<div>Dekel A., Birnboim Y., Engel G., Freundlich J., Goerdt</div>
<div class="k">T., Mumcuoglu M., Neistein E., Pichon C., Teyssier R.,</div>
<div class="k">Zinger E., 2009, Nature, 457, 451</div>
<div>Devriendt J., &nbsp;et al. 2010, MNRAS, 403, L84</div>
<div>Dubois Y., &nbsp;et al. 2014, MNRAS, 444, 1453</div>
<div>Dubois Y., Devriendt J., Slyz A., Teyssier R., 2012, MN-</div>
<div class="k">RAS, 420, 2662</div>
<div>Dubois Y., Teyssier R., 2008, A&amp;A, 477, 79</div>
<div>Förster Schreiber N. M., &nbsp;et al. 2006, ApJ, 645, 1062</div>
<div>Förster Schreiber N. M., Shapley A. E., Erb D. K., Genzel</div>
<div class="k">R., Steidel C. C., Bouché N., Cresci G., Davies R., 2011,</div>
<div class="k">ApJ, 731, 65</div>
<div>Genzel R., &nbsp;et al. 2008, ApJ, 687, 59</div>
<div>Genzel R., &nbsp;et al. 2011, ApJ, 733, 101</div>
<div>Grogin N. A., &nbsp;et al. 2011, ApJS, 197, 35</div>
<div>Haardt F., Madau P., 1996, ApJ, 461, 20</div>
<div>Hopkins A. M., Beacom J. F., 2006, ApJ, 651, 142</div>
<div>Kaviraj S., &nbsp;et al. 2007, ApJS, 173, 619</div>
<div>Kaviraj S., &nbsp;et al. 2013a, MNRAS, 429, L40</div>
<div>Kaviraj S., &nbsp;et al. 2013b, MNRAS, 428, 925</div>
<div>Kaviraj S., Kirkby L. A., Silk J., Sarzi M., 2007, MNRAS,</div>
<div class="k">382, 960</div>
<div>Kennicutt Jr. R. C., 1998, ApJ, 498, 541</div>
<div>Kereš D., Katz N., Fardal M., Davé R., Weinberg D. H.,</div>
<div class="k">2009, MNRAS, 395, 160</div>
<div>Khandai N., Di Matteo T., Croft R., Wilkins S. M., Feng</div>
<div class="k">Y., Tucker E., DeGraf C., Liu M.-S., 2014, ArXiv e-prints</div>
<div>Kimm T., &nbsp;et al. 2012, MNRAS, 425, L96</div>
<div>Law D. R., Steidel C. C., Erb D. K., Larkin J. E., Pettini</div>
<div class="k">M., Shapley A. E., Wright S. A., 2009, ApJ, 697, 2057</div>
<div>Law D. R., Steidel C. C., Shapley A. E., Nagy S. R., Reddy</div>
<div class="k">N. A., Erb D. K., 2012, ApJ, 745, 85</div>
<div>Lintott C., &nbsp;et al. 2011, MNRAS, 410, 166</div>
<div>Lotz J. M., &nbsp;et al. 2011, ApJ, 742, 103</div>
<div>Lotz J. M., Madau P., Giavalisco M., Primack J., Ferguson</div>
<div class="k">H. C., 2006, ApJ, 636, 592</div>
<div>Madau P., Pozzetti L., Dickinson M., 1998, ApJ, 498, 106</div>
<div>Man A. W. S., Toft S., Zirm A. W., Wuyts S., van der Wel</div>
<div class="k">A., 2012, ApJ, 744, 85</div>
<div>Mancini C., &nbsp;et al. 2011, ApJ, 743, 86</div>
<div>Martin D. C., &nbsp;et al. 2005, ApJ, 619, L1</div>
<div>Mihos J. C., Hernquist L., , 1996, Gasdynamics and Star-</div>
<div class="k">bursts in Major Mergers</div>
<div>Pannella M., &nbsp;et al. 2014, ArXiv e-prints</div>
<div>Planck Collaboration &nbsp;et al. 2013, ArXiv e-prints</div>
<div>Rodighiero G., &nbsp;et al. 2011, ApJL, 739, L40</div>
<div>Schaye J., &nbsp;et al. 2014, ArXiv e-prints</div>
<div>Shapiro K. L., &nbsp;et al. 2008, ApJ, 682, 231</div>
<div>Springel V., Di Matteo T., Hernquist L., 2005, MNRAS,</div>
<div class="k">361, 776</div>
<div>Sutherland R. S., Dopita M. A., 1993, ApJS, 88, 253</div>
<div>Teyssier R., 2002, A&amp;A, 385, 337</div>
<div>Tweed D., Devriendt J., Blaizot J., Colombi S., Slyz A.,</div>
<div class="k">2009, A&amp;A, 506, 647</div>
<div>Vogelsberger M., &nbsp;et al. 2014, Nature, 509, 177</div>
<div>Windhorst R. A., &nbsp;et al. 2011, ApJS, 193, 27</div>
<div>Yi S. K., Yoon S.-J., Kaviraj S., et al. 2005, ApJ, 619, L111</div>
</div>

</body></html>
